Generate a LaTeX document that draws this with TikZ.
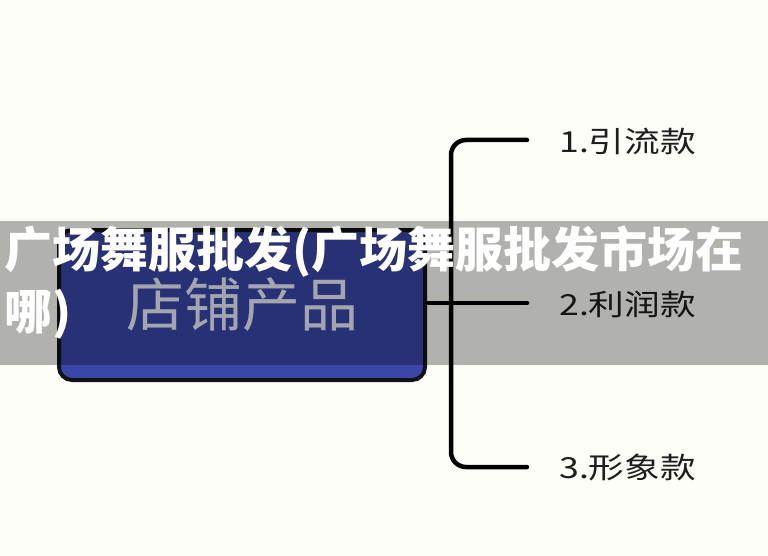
\documentclass[tikz,border=0pt]{standalone}
\usepackage{fontspec}
\newfontfamily\cjk{Noto Sans CJK SC}
\definecolor{bgc}{RGB}{254,254,248}
\definecolor{boxblue}{RGB}{58,71,168}
\definecolor{boxline}{RGB}{18,18,24}
\definecolor{boxtext}{RGB}{236,238,252}
\definecolor{labeltext}{RGB}{30,30,30}
\tikzset{
  mainbox/.style={draw=boxline, line width=4pt, fill=boxblue, rounded corners=13pt,
    minimum width=366pt, minimum height=150pt, inner sep=0pt,
    text=boxtext, font=\cjk\fontsize{58}{60}\selectfont},
  branch/.style={draw=black, line width=4.5pt, line cap=round, rounded corners=15pt},
  leaflabel/.style={anchor=west, inner sep=0pt, text=labeltext, font=\cjk\fontsize{29}{32}\selectfont},
  titletext/.style={anchor=west, inner sep=0pt, text=white, font=\cjk\bfseries\fontsize{48}{50}\selectfont},
  band/.style={fill=black, opacity=0.3}
}
\begin{document}
\begin{tikzpicture}[x=1pt,y=-1pt]
\useasboundingbox (0,0) rectangle (768,556);
\fill[bgc] (0,0) rectangle (768,556);
% main box
\node[mainbox] (main) at (242,305) {\raisebox{-1pt}{店铺产品}};
% branch ends
\coordinate (j1) at (527,140);
\coordinate (j2) at (527,303);
\coordinate (j3) at (527,467);
\coordinate (spine) at (451,303);
% connectors
\draw[branch] (j1) -- (451,140) -- (451,467) -- (j3);
\draw[branch] (main.east |- spine) -- (j2);
% labels
\node[leaflabel] (l1) at (559,141) {\scalebox{1.23}[1]{1.引流款}};
\node[leaflabel] (l2) at (559,304) {\scalebox{1.23}[1]{2.利润款}};
\node[leaflabel] (l3) at (559,468) {\scalebox{1.23}[1]{3.形象款}};
% overlay band
\fill[band] (0,221) rectangle (768,365);
% title text
\node[titletext] (t1) at (4,252) {广场舞服批发(广场舞服批发市场在};
\node[titletext] (t2) at (4,314) {哪)};
\end{tikzpicture}
\end{document}
